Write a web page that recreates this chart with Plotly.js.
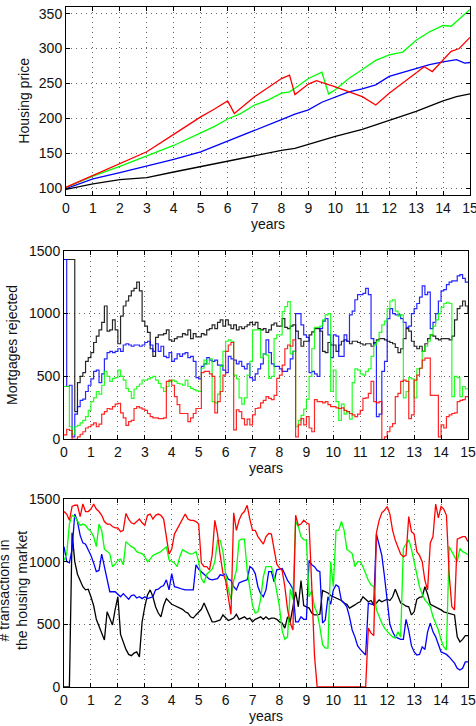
<!DOCTYPE html>
<html><head><meta charset="utf-8">
<script src="https://cdn.plot.ly/plotly-3.0.1.min.js"></script>
<style>html,body{margin:0;padding:0;background:#fff}#chart{width:476px;height:726px}</style>
</head><body><div id="chart"></div>
<script>
// ---------- Panel 1: housing price (key points per series) ----------
const priceBlackX = [0,1,2,3,4,5,6,7,8,8.5,9,10,11,12,13,14,14.5,15];
const priceBlack  = [98,106,112,115,123,131,139,147,154,157,163,174,184,197,210,225,231,235];
const priceBlueX  = [0,1,2,3,4,5,6,7,8,8.5,9,9.5,10,10.5,11,11.5,12,12.5,13,13.5,14,14.5,14.8,15];
const priceBlue   = [99,113,122,131,141,152,167,182,198,206,212,223,230,238,242,248,260,266,272,277,281,284,279,280];
const priceGreenX = [0,1,2,3,4,5,5.5,6,6.5,7,7.5,8,8.3,8.5,9,9.5,9.75,10,10.5,11,11.5,12,12.5,13,13.5,14,14.3,15];
const priceGreen  = [101,117,131,146,161,179,188,199,207,219,226,236,238,243,257,266,235,241,257,270,283,291,295,312,324,333,332,356];
const priceRedX   = [0,1,2,3,4,5,5.5,6,6.25,7,8,8.3,8.5,9,9.3,10,11,11.5,12,12.5,13,13.3,13.6,14,14.3,14.6,15];
const priceRed    = [101,118,134,152,177,202,213,225,207,231,257,262,234,249,254,245,231,219,236,251,266,274,267,284,296,300,316];

// ---------- shared time axis for panels 2 and 3 (years) ----------
const years = [0,0.1,0.2,0.3,0.4,0.5,0.6,0.7,0.8,0.9,1,1.1,1.2,1.3,1.4,1.5,1.6,1.7,1.8,1.9,
2,2.1,2.2,2.3,2.4,2.5,2.6,2.7,2.8,2.9,3,3.1,3.2,3.3,3.4,3.5,3.6,3.7,3.8,3.9,
4,4.1,4.2,4.3,4.4,4.5,4.6,4.7,4.8,4.9,5,5.1,5.2,5.3,5.4,5.5,5.6,5.7,5.8,5.9,
6,6.1,6.2,6.3,6.4,6.5,6.6,6.7,6.8,6.9,7,7.1,7.2,7.3,7.4,7.5,7.6,7.7,7.8,7.9,
8,8.1,8.2,8.3,8.4,8.5,8.6,8.7,8.8,8.9,9,9.1,9.2,9.3,9.4,9.5,9.6,9.7,9.8,9.9,
10,10.1,10.2,10.3,10.4,10.5,10.6,10.7,10.8,10.9,11,11.1,11.2,11.3,11.4,11.5,11.6,11.7,11.8,11.9,
12,12.1,12.2,12.3,12.4,12.5,12.6,12.7,12.8,12.9,13,13.1,13.2,13.3,13.4,13.5,13.6,13.7,13.8,13.9,
14,14.1,14.2,14.3,14.4,14.5,14.6,14.7,14.8,14.9,15];

// ---------- Panel 2: mortgages rejected ----------
const mortBlack = [1430,1430,1430,1430,220,450,500,530,620,650,
690,770,820,870,930,1060,860,870,950,870,
760,980,1060,1100,1140,1180,1200,1250,1180,940,
900,850,720,660,810,830,830,840,870,790,
780,800,815,815,840,830,870,800,840,815,
815,840,830,870,880,910,880,930,950,900,
950,910,880,910,870,895,880,895,910,930,
910,930,880,870,880,850,870,910,925,900,
900,960,890,880,900,910,860,800,740,780,
780,830,855,880,880,860,700,690,770,750,
750,700,750,780,790,780,760,780,780,770,
760,750,760,760,740,770,790,800,800,790,
780,770,760,730,690,720,800,880,860,780,
740,720,740,700,760,800,830,820,800,790,
800,800,800,790,820,950,1040,1060,1100,1060,
1000];
const mortBlue = [1430,420,430,20,200,260,310,320,380,430,
480,540,550,450,520,640,690,700,690,700,
720,700,750,760,750,740,750,750,740,750,
770,780,750,700,760,700,740,660,650,690,
620,640,680,660,680,690,650,660,620,490,
480,580,600,650,630,620,630,590,590,550,
530,660,640,630,600,620,580,560,600,490,
470,520,560,600,680,790,690,600,580,580,
560,540,540,560,640,700,1000,1000,910,830,
810,530,540,520,500,880,940,960,830,650,
830,820,660,660,830,780,990,1020,1110,1150,
1150,1160,1200,1150,800,760,180,200,540,620,
960,1040,1000,990,990,960,930,890,900,1000,
1040,1080,1130,1220,1150,1170,880,930,1000,1100,
1180,1190,1230,1250,1260,1260,1300,1310,1280,1250,
1250];
const mortGreen = [420,420,100,40,100,110,130,150,180,230,
300,330,380,360,430,540,500,460,485,490,
550,500,470,405,380,325,400,420,440,470,
470,480,490,500,470,445,410,380,420,460,
470,460,445,440,430,470,420,405,395,385,
380,565,630,600,640,300,290,360,580,700,
780,790,780,510,480,330,280,330,510,620,
870,870,870,650,680,670,485,500,800,830,
830,1015,1055,1095,680,700,100,150,190,240,
320,500,720,890,890,900,950,990,1000,380,
550,300,150,280,200,220,160,450,560,550,
520,510,540,560,660,750,780,850,910,940,
1040,1100,1110,1020,980,990,330,380,490,480,
330,560,565,700,740,780,830,900,950,1000,
1050,1080,1090,1080,340,500,490,340,420,400,
410];
const mortRed = [35,80,70,0,0,20,40,60,90,100,
115,130,100,120,200,220,245,240,260,280,
285,210,170,110,140,150,245,260,250,240,
230,205,180,170,170,165,165,170,460,470,
430,340,275,205,205,205,140,170,205,245,
245,530,540,540,520,500,210,300,380,510,
700,750,770,75,235,220,165,115,160,115,
195,245,250,290,310,340,325,315,350,485,
510,590,720,750,740,790,20,115,165,115,
180,90,60,315,300,300,290,300,275,260,
260,250,245,250,230,220,205,195,180,200,
230,325,330,365,460,300,290,300,0,20,
60,100,125,340,365,460,470,460,165,195,
470,510,565,630,645,645,350,350,350,20,
115,90,180,195,205,210,300,310,315,340,
340];

// ---------- Panel 3: transactions in the housing market ----------
const transBlack = [0,0,0,1230,1000,900,850,800,775,780,
720,650,540,480,420,375,600,540,495,620,
720,420,350,300,260,250,270,280,240,520,
640,735,775,720,640,590,560,650,705,680,
660,650,640,630,620,600,590,560,550,575,
600,620,670,620,560,520,520,530,535,575,
550,530,540,550,580,540,550,560,540,550,
520,540,550,560,540,560,540,550,550,540,
520,510,470,560,520,650,760,640,850,650,
640,630,590,575,575,580,770,760,750,730,
720,705,700,690,670,660,630,640,655,670,
680,720,700,680,690,655,670,695,680,690,
700,690,720,780,720,670,660,645,640,575,
600,700,715,720,800,740,660,650,640,630,
615,600,595,590,585,575,400,360,380,410,
410];
const transBlue = [1120,1000,990,1100,1380,1320,1210,1150,1140,1100,
1050,990,920,930,1060,960,860,760,760,760,
740,720,745,720,700,730,735,710,720,705,
720,705,715,720,775,780,800,810,855,775,
905,800,795,785,780,775,775,775,775,975,
940,920,900,880,860,855,860,865,895,890,
905,860,850,800,775,830,840,850,855,960,
945,905,800,745,720,775,920,920,840,935,
940,945,900,850,820,780,520,520,560,540,
540,1010,975,960,930,920,510,535,720,660,
775,815,800,690,670,640,560,455,400,330,
300,280,255,670,660,655,1220,1130,1050,880,
660,500,440,400,390,380,380,540,450,330,
280,255,260,320,300,440,510,440,400,330,
280,270,260,240,215,190,150,135,150,200,
200];
const transGreen = [1010,1060,1300,1370,1360,1320,1290,1300,1290,1260,
1240,1200,1120,1300,1250,1100,1080,1065,960,980,
1010,1020,975,1160,1140,1120,1110,1080,1070,1065,
1040,1000,1020,1050,1060,1070,1080,1100,1120,1015,
1000,990,960,1040,1095,1080,1070,1060,1065,1080,
1000,865,830,900,920,940,1000,1170,1170,1080,
900,780,700,850,930,1170,1180,1180,930,780,
650,590,600,700,880,960,960,960,880,775,
640,450,380,400,780,700,1320,1280,1200,1175,
1170,720,770,640,590,480,340,310,310,1000,
800,1250,1250,1320,1250,1100,1080,1065,960,1000,
1000,960,905,850,815,800,615,560,510,470,
440,420,400,390,440,400,1105,1140,1175,1100,
1000,905,800,740,695,670,640,560,500,455,
375,320,295,1120,1080,1040,1000,1105,1080,1070,
1055];
const transRed = [1400,1380,1330,1440,1450,1450,1360,1460,1400,1400,
1420,1460,1420,1400,1370,1320,1300,1300,1280,1270,
1270,1240,1250,1385,1340,1310,1300,1320,1340,1310,
1290,1370,1380,1340,1370,1380,1370,1340,1180,1060,
1100,1220,1260,1300,1340,1380,1340,1330,1330,1320,
1300,990,960,960,935,1050,1330,1220,1050,910,
850,700,580,1390,1250,1330,1380,1400,1450,1340,
1250,1250,1200,1170,1140,1200,1225,1220,1100,980,
950,930,800,620,510,455,1370,1290,1300,1330,
1310,1300,800,250,0,0,0,0,0,0,
0,0,0,0,0,0,0,0,0,0,
0,0,0,470,430,410,1230,1330,1390,1410,
1440,1380,1250,1170,1120,1060,1040,1050,1360,1240,
1220,1080,1050,1000,850,775,1150,1200,1460,1350,
1440,1420,1370,900,640,615,1180,1190,1200,1200,
1160];

const xTicks = [0,1,2,3,4,5,6,7,8,9,10,11,12,13,14,15];
const COLORS = {black:'#000000', blue:'#0000ff', green:'#00ff00', red:'#ff0000'};

function tr(x, y, color, xa, ya) {
  return {x: x, y: y, type: 'scatter', mode: 'lines',
    line: {color: color, width: 1.3}, xaxis: xa, yaxis: ya, hoverinfo: 'skip'};
}
function stepTr(y, color) {
  const t = tr(years, y, color, 'x2', 'y2');
  t.opacity = 0.85;
  t.line = {color: color, width: 1.2, shape: 'hv'};
  return t;
}

const data = [
  tr(priceBlackX, priceBlack, COLORS.black, 'x', 'y'),
  tr(priceBlueX, priceBlue, COLORS.blue, 'x', 'y'),
  tr(priceGreenX, priceGreen, COLORS.green, 'x', 'y'),
  tr(priceRedX, priceRed, COLORS.red, 'x', 'y'),
  stepTr(mortBlack, COLORS.black),
  stepTr(mortBlue, COLORS.blue),
  stepTr(mortGreen, COLORS.green),
  stepTr(mortRed, COLORS.red),
  tr(years, transBlack, COLORS.black, 'x3', 'y3'),
  tr(years, transBlue, COLORS.blue, 'x3', 'y3'),
  tr(years, transGreen, COLORS.green, 'x3', 'y3'),
  tr(years, transRed, COLORS.red, 'x3', 'y3')
];

const FONT = 'Liberation Sans, Arial, Helvetica, sans-serif';
const TITLE_FONT = {family: FONT, size: 14, color: '#111'};
function axisCommon() {
  return {showline: true, linecolor: '#000', linewidth: 1, mirror: 'ticks',
    ticks: 'inside', ticklen: 4, tickcolor: '#000', tickwidth: 1,
    showgrid: true, gridcolor: '#666', gridwidth: 1, griddash: '1px,4px',
    zeroline: false, automargin: false, fixedrange: true, ticklabeloverflow: 'allow',
    tickfont: {family: FONT, size: 14, color: '#111'}};
}
function xAxis(dom, anchor) {
  return Object.assign(axisCommon(), {domain: dom, anchor: anchor, range: [0, 15],
    tickmode: 'array', tickvals: xTicks, ticktext: xTicks.map(String),
    title: {text: 'years', font: TITLE_FONT, standoff: 4}});
}
function yAxis(dom, anchor, range, tickvals, title, standoff) {
  const a = Object.assign(axisCommon(), {domain: dom, anchor: anchor, range: range,
    tickmode: 'array', tickvals: tickvals, ticktext: tickvals.map(String)});
  if (title) a.title = {text: title, font: TITLE_FONT, standoff: standoff};
  return a;
}
const H = 726, W = 476;
const layout = {
  width: W, height: H, margin: {l: 0, r: 0, t: 0, b: 0},
  paper_bgcolor: '#fff', plot_bgcolor: '#fff', showlegend: false,
  font: {family: FONT, size: 14, color: '#111'},
  xaxis: xAxis([66/W, 470/W], 'y'),
  yaxis: yAxis([1 - 195/H, 1 - 6.7/H], 'x', [90, 360], [100,150,200,250,300,350], 'Housing price', 5),
  xaxis2: xAxis([64/W, 468/W], 'y2'),
  yaxis2: yAxis([1 - 439.3/H, 1 - 250.7/H], 'x2', [0, 1500], [0,500,1000,1500], 'Mortgages rejected', 8),
  xaxis3: xAxis([64/W, 468/W], 'y3'),
  yaxis3: yAxis([1 - 687/H, 1 - 499/H], 'x3', [0, 1500], [0,500,1000,1500], null, 0),
  annotations: [{
    text: '# transactions in<br>the housing market', textangle: -90,
    xref: 'paper', yref: 'paper', x: 13/W, y: 1 - 591/H,
    xanchor: 'center', yanchor: 'middle', showarrow: false,
    font: TITLE_FONT, align: 'center'
  }]
};
Plotly.newPlot('chart', data, layout, {staticPlot: true, displayModeBar: false});
</script>
</body></html>
